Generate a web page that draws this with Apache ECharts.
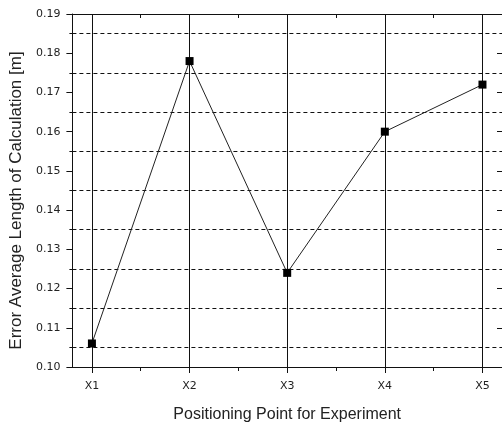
<!DOCTYPE html>
<html>
<head>
<meta charset="utf-8">
<script src="https://cdn.jsdelivr.net/npm/echarts@6/dist/echarts.min.js"></script>
<style>
html,body{margin:0;padding:0;background:#fff;}
#chart{width:502px;height:428px;}
</style>
</head>
<body>
<div id="chart"></div>
<script>
const categories = ['X1', 'X2', 'X3', 'X4', 'X5'];
const errorValues = [0.106, 0.178, 0.124, 0.160, 0.172];
const xPositions = [1, 2, 3, 4, 5];
const xMinorPositions = [1.5, 2.5, 3.5, 4.5];
const yMin = 0.10, yMax = 0.19, yStep = 0.01;
const xTitle = 'Positioning Point for Experiment';
const yTitle = 'Error Average Length of Calculation [m]';

const seriesData = categories.map((c, i) => [xPositions[i], errorValues[i]]);
const ink = '#111';
const tickFont = { fontFamily: 'DejaVu Sans', fontSize: 11, color: '#222' };

const chart = echarts.init(document.getElementById('chart'), null, { renderer: 'canvas' });
chart.setOption({
  animation: false,
  backgroundColor: '#fff',
  grid: { left: 69, top: 14, width: 435, height: 357, containLabel: false },
  xAxis: [
    {
      type: 'value', position: 'bottom', min: 0.8, max: 5.2,
      axisLine: { show: true, lineStyle: { color: ink, width: 1 } },
      axisTick: { show: true, inside: false, length: 6, customValues: xPositions, lineStyle: { color: ink } },
      axisLabel: Object.assign({ show: true, margin: 14, customValues: xPositions,
        formatter: v => categories[xPositions.indexOf(Math.round(v))] || '' }, tickFont),
      splitLine: { show: true, lineStyle: { color: ink, width: 1, type: 'solid' } },
      name: xTitle, nameLocation: 'middle', nameGap: 40,
      nameTextStyle: { fontFamily: 'Liberation Sans', fontSize: 16, color: '#222' }
    },
    {
      type: 'value', position: 'bottom', min: 0.8, max: 5.2,
      axisLine: { show: false },
      axisTick: { show: true, inside: false, length: 4, customValues: xMinorPositions, lineStyle: { color: ink } },
      axisLabel: { show: false },
      splitLine: { show: false }
    },
    {
      type: 'value', position: 'top', min: 0.8, max: 5.2,
      axisLine: { show: true, lineStyle: { color: ink, width: 1 } },
      axisTick: { show: true, inside: true, length: 4, customValues: xMinorPositions, lineStyle: { color: ink } },
      axisLabel: { show: false },
      splitLine: { show: false }
    }
  ],
  yAxis: [
    {
      type: 'value', position: 'left', min: yMin, max: yMax, interval: yStep,
      axisLine: { show: true, lineStyle: { color: ink, width: 1 } },
      axisTick: { show: true, inside: false, length: 6, lineStyle: { color: ink } },
      minorTick: { show: true, splitNumber: 2, length: 3, lineStyle: { color: ink } },
      minorSplitLine: { show: true, lineStyle: { color: ink, width: 1, type: [4, 3] } },
      splitLine: { show: false },
      axisLabel: Object.assign({ margin: 12, formatter: v => v.toFixed(2) }, tickFont),
      name: yTitle, nameLocation: 'middle', nameGap: 41, nameRotate: 90,
      nameTextStyle: { fontFamily: 'Liberation Sans', fontSize: 17, color: '#222', padding: [0, 20, 0, 0] }
    },
    {
      type: 'value', position: 'right', min: yMin, max: yMax, interval: yStep,
      axisLine: { show: true, lineStyle: { color: ink, width: 1 } },
      axisTick: { show: true, inside: true, length: 5, lineStyle: { color: ink } },
      axisLabel: { show: false },
      splitLine: { show: false }
    }
  ],
  series: [{
    type: 'line',
    xAxisIndex: 0, yAxisIndex: 0,
    data: seriesData,
    symbol: 'rect', symbolSize: 8,
    itemStyle: { color: '#000' },
    lineStyle: { color: '#222', width: 1 },
    z: 5
  }]
});
</script>
</body>
</html>
